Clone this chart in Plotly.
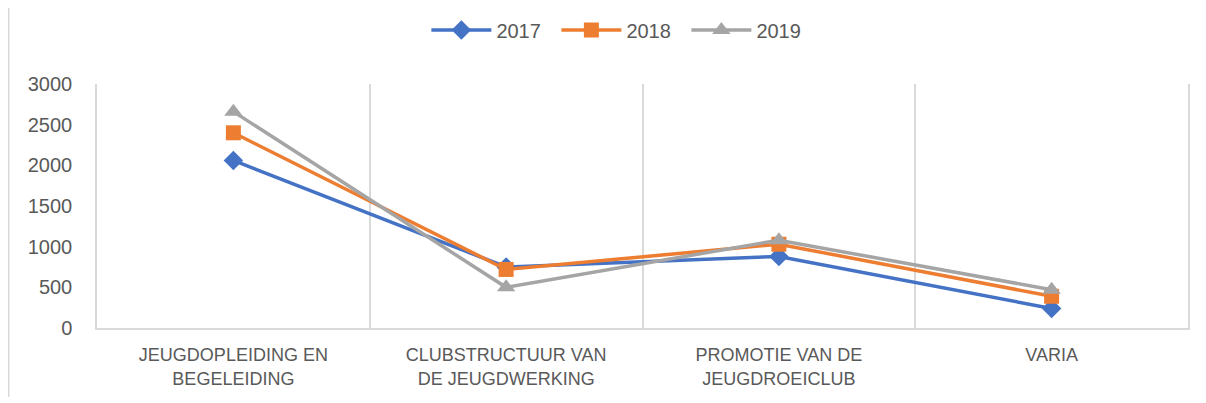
import plotly.graph_objects as go

categories = ["JEUGDOPLEIDING EN<br>BEGELEIDING", "CLUBSTRUCTUUR VAN<br>DE JEUGDWERKING",
              "PROMOTIE VAN DE<br>JEUGDROEICLUB", "VARIA"]
years = ["2017", "2018", "2019"]
values_2017 = [2060, 750, 880, 240]
values_2018 = [2400, 720, 1030, 390]
values_2019 = [2660, 500, 1080, 470]

series = [
    ("2017", values_2017, "#4472C4", "diamond", 15),
    ("2018", values_2018, "#ED7D31", "square", 15),
    ("2019", values_2019, "#A5A5A5", "triangle-up", 16),
]

fig = go.Figure()
for name, vals, color, sym, size in series:
    fig.add_trace(go.Scatter(
        x=categories, y=vals, name=name, mode="lines+markers",
        line=dict(color=color, width=3.5),
        marker=dict(symbol=sym, size=size, color=color),
    ))

# the page body adds an 8px offset, so the figure is 8px smaller than the window
fig.update_layout(
    width=1198, height=395,
    margin=dict(l=89, r=18, t=76, b=75, autoexpand=False),
    paper_bgcolor="white", plot_bgcolor="white",
    font=dict(family="Liberation Sans, Arial, sans-serif", color="#595959", size=20),
    showlegend=True,
    legend=dict(orientation="h", x=0.512, xanchor="center", xref="container",
                y=0.944, yanchor="middle", yref="container",
                font=dict(size=20, color="#595959"), itemwidth=60,
                entrywidth=55, entrywidthmode="pixels", traceorder="normal"),
)
fig.update_xaxes(
    type="category", range=[-0.5, 3.5], tickson="boundaries", automargin=False,
    showgrid=True, gridcolor="#D9D9D9", gridwidth=1.5,
    showline=True, linecolor="#D9D9D9", linewidth=1.5,
    ticks="", ticklabelstandoff=10, tickfont=dict(size=18, color="#595959"),
)
fig.update_yaxes(
    range=[0, 3000], dtick=500, showgrid=False, zeroline=False, automargin=False,
    showline=True, mirror=True, linecolor="#D9D9D9", linewidth=1.5,
    ticks="", ticklabelstandoff=19,
    tickfont=dict(size=20, color="#595959"),
)
fig.add_shape(type="line", xref="paper", yref="paper",
              x0=-0.0809, x1=-0.0809, y0=-0.283, y1=1.35,
              line=dict(color="#D9D9D9", width=1.5))

fig.write_html("out.html")
